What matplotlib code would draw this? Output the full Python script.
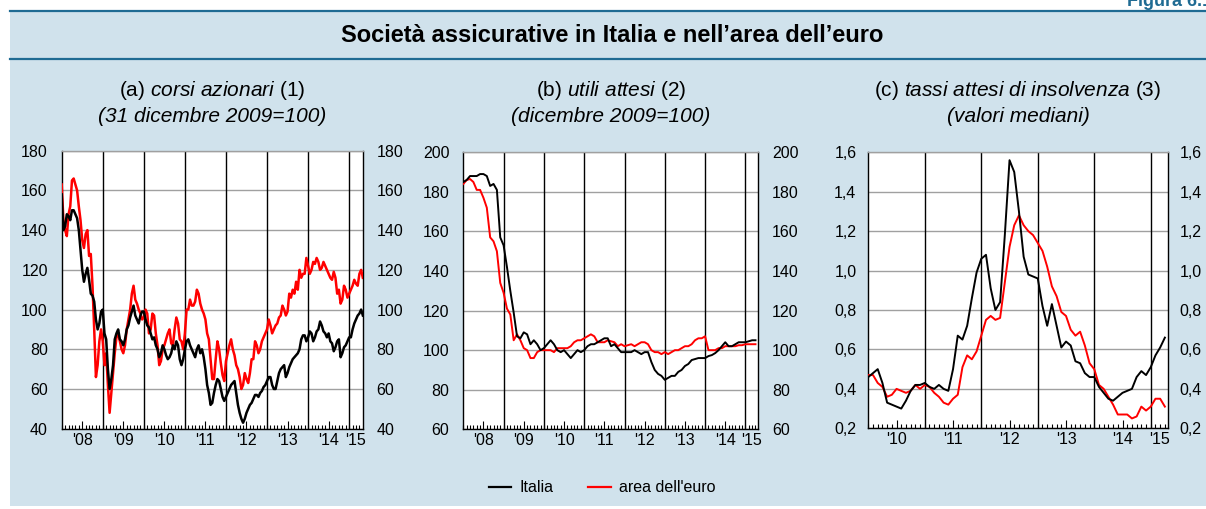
import numpy as np
import matplotlib
matplotlib.use('Agg')
import matplotlib.pyplot as plt
from matplotlib.patches import Rectangle
from matplotlib.lines import Line2D

W, H = 1206, 509
plt.rcParams['font.family'] = ['Liberation Sans', 'DejaVu Sans']
plt.rcParams['mathtext.fontset'] = 'custom'
plt.rcParams['mathtext.rm'] = 'Liberation Sans'
plt.rcParams['mathtext.it'] = 'Liberation Sans:italic'

# ---------------- data ----------------
# (a) share prices, twice a month from Jan 2008 (31 Dec 2009 = 100)
a_start = 2008.0
a_step = 1 / 24.0
a_italia = [158, 140, 142, 148, 147, 145, 150, 150, 148, 146, 140, 130, 120, 114, 118, 121, 115, 108, 107, 104,
            95, 90, 93, 99, 100, 88, 85, 70, 60, 65, 72, 85, 88, 90, 85, 84, 82, 85, 90, 92,
            96, 99, 102, 97, 95, 93, 97, 99, 99, 95, 92, 91, 88, 85, 86, 82, 80, 76, 78, 82,
            80, 77, 75, 76, 78, 82, 80, 84, 82, 75, 72, 75, 80, 84, 85, 82, 80, 78, 76, 80,
            82, 78, 80, 76, 70, 62, 58, 52, 53, 58, 62, 65, 64, 60, 56, 54, 56, 58, 60, 62,
            63, 64, 58, 52, 48, 45, 43, 45, 48, 50, 52, 53, 55, 57, 57, 56, 58, 59, 61, 62,
            64, 66, 66, 62, 60, 60, 64, 68, 70, 71, 72, 66, 68, 71, 73, 75, 76, 77, 78, 80,
            85, 87, 87, 84, 86, 89, 88, 84, 86, 89, 90, 94, 92, 89, 88, 86, 88, 84, 83, 79,
            81, 84, 85, 76, 78, 81, 82, 84, 86, 86, 90, 93, 95, 97, 98, 100, 97]
a_euro = [163, 145, 140, 137, 148, 152, 165, 166, 163, 160, 152, 145, 135, 131, 138, 140, 127, 128, 112, 90,
          66, 72, 84, 90, 84, 72, 78, 62, 48, 58, 68, 78, 86, 88, 84, 80, 78, 82, 90, 95,
          100, 108, 112, 105, 103, 100, 98, 95, 96, 100, 98, 88, 90, 98, 97, 88, 82, 72, 74, 80,
          82, 85, 88, 90, 83, 82, 90, 96, 93, 85, 84, 80, 88, 100, 100, 105, 102, 102, 104, 110,
          108, 103, 100, 98, 95, 88, 85, 75, 65, 65, 75, 84, 80, 73, 67, 64, 74, 78, 82, 85,
          80, 77, 72, 70, 66, 60, 62, 68, 65, 63, 68, 75, 75, 84, 82, 78, 80, 84, 86, 88,
          90, 95, 92, 88, 90, 92, 93, 96, 97, 102, 100, 97, 99, 108, 106, 110, 108, 114, 110, 120,
          116, 118, 118, 126, 122, 118, 120, 124, 123, 126, 124, 120, 121, 124, 122, 120, 118, 116, 115, 119,
          116, 108, 110, 103, 105, 112, 110, 106, 108, 110, 112, 115, 113, 112, 118, 120, 116]

# (b) expected earnings, monthly from Jan 2008 (Dec 2009 = 100)
b_start = 2008.0
b_step = 1 / 12.0
b_italia = [185, 186, 188, 188, 188, 189, 189, 188, 183, 184, 181, 157, 153, 142, 130,
            119, 107, 106, 109, 108, 103, 105, 103, 100, 101, 103, 105, 103, 100, 99,
            100, 98, 96, 98, 100, 99, 100, 102, 103, 103, 104, 105, 106, 106, 102, 103,
            101, 99, 99, 99, 99, 100, 99, 98, 99, 99, 94, 90, 88, 87, 85, 86, 87, 87,
            89, 90, 92, 93, 95, 95.5, 96, 96, 96, 97, 97.5, 98.5, 100, 102, 104, 102,
            102, 103, 104, 104, 104, 104.5, 105, 105]
b_euro = [184, 186, 186.5, 185, 181, 181, 177, 172, 157, 155, 150, 134, 129, 121, 118,
          105, 108, 105, 101, 100, 96, 96, 99, 100, 100, 100, 100, 99, 101, 101, 101,
          101, 102, 104, 105, 105, 106, 107, 108, 107, 104, 104, 104, 105, 104.5, 104,
          102, 103, 102, 102.5, 103, 102, 103, 104, 104, 103, 100, 99, 99, 98, 99, 98,
          99, 100, 100, 101, 102, 102, 103, 105, 106, 106, 107, 100, 100, 100, 101,
          101, 102, 102, 102, 102, 102.5, 102.5, 103, 103, 103, 103]

# (c) expected default rates (medians), monthly from Jan 2010
c_start = 2010.0
c_step = 1 / 12.0
c_italia = [0.46, 0.48, 0.50, 0.43, 0.33, 0.32, 0.31, 0.30, 0.34, 0.39, 0.42, 0.42,
            0.43, 0.41, 0.40, 0.42, 0.40, 0.39, 0.50, 0.67, 0.65, 0.72, 0.86, 0.99,
            1.06, 1.08, 0.91, 0.80, 0.84, 1.18, 1.56, 1.50, 1.30, 1.07, 0.98, 0.97,
            0.96, 0.82, 0.72, 0.83, 0.72, 0.61, 0.64, 0.62, 0.54, 0.53, 0.48, 0.46,
            0.46, 0.41, 0.38, 0.35, 0.34, 0.36, 0.38, 0.39, 0.40, 0.46, 0.49, 0.47,
            0.51, 0.57, 0.61, 0.66]
c_euro = [0.47, 0.47, 0.43, 0.41, 0.36, 0.37, 0.40, 0.39, 0.38, 0.39, 0.42, 0.40,
          0.42, 0.41, 0.38, 0.36, 0.33, 0.32, 0.35, 0.37, 0.51, 0.57, 0.55, 0.59,
          0.67, 0.75, 0.77, 0.75, 0.76, 0.94, 1.12, 1.23, 1.28, 1.23, 1.20, 1.18,
          1.14, 1.10, 1.02, 0.92, 0.87, 0.79, 0.77, 0.70, 0.67, 0.69, 0.62, 0.53,
          0.50, 0.42, 0.40, 0.36, 0.32, 0.27, 0.27, 0.27, 0.25, 0.26, 0.31, 0.29,
          0.31, 0.35, 0.35, 0.31]

a_years = [2008, 2009, 2010, 2011, 2012, 2013, 2014, 2015]
c_years = [2010, 2011, 2012, 2013, 2014, 2015]
a_yticks = [40, 60, 80, 100, 120, 140, 160, 180]
b_yticks = [60, 80, 100, 120, 140, 160, 180, 200]
c_yticks = [0.2, 0.4, 0.6, 0.8, 1.0, 1.2, 1.4, 1.6]

title = "Società assicurative in Italia e nell’area dell’euro"
sub_a = ["(a) $\\mathit{corsi\\ azionari}$ (1)", "(31 dicembre 2009=100)"]
sub_b = ["(b) $\\mathit{utili\\ attesi}$ (2)", "(dicembre 2009=100)"]
sub_c = ["(c) $\\mathit{tassi\\ attesi\\ di\\ insolvenza}$ (3)", "(valori mediani)"]
legend_labels = ["Italia", "area dell'euro"]

BG = '#d0e2ec'
LINEBLUE = '#1f6b93'
RED = '#ff0000'

fig = plt.figure(figsize=(W / 100, H / 100), dpi=100)
fig.patch.set_facecolor('white')
fig.patches.append(Rectangle((10 / W, 1 - 506 / H), (W - 10) / W, (506 - 11) / H,
                             transform=fig.transFigure, facecolor=BG,
                             edgecolor='none', zorder=-5))
for ypx in (11, 59):
    fig.add_artist(Line2D([10 / W, 1], [1 - ypx / H] * 2, color=LINEBLUE, lw=1.6,
                          transform=fig.transFigure))
fig.text(1212 / W, 1 - 6 / H, "Figura 6.1", ha='right', va='baseline',
         fontsize=13, fontweight='bold', color=LINEBLUE)
fig.text(612 / W, 1 - 36 / H, title, ha='center', va='center', fontsize=17,
         fontweight='bold', color='black')


def rect(l, t, r, b):
    return [l / W, 1 - b / H, (r - l) / W, (b - t) / H]


def panel(box, start, step, it, eu, years, ylim, yticks, fmt, lw, pad, subs, xend):
    ax = fig.add_axes(rect(*box))
    ax.set_facecolor('white')
    x_it = start + np.arange(len(it)) * step
    x_eu = start + np.arange(len(eu)) * step
    ax.set_xlim(years[0], xend)
    ax.set_ylim(*ylim)
    for y in yticks:
        ax.axhline(y, color='#a0a0a0', lw=1.0, zorder=1)
    for yr in years[1:]:
        ax.axvline(yr, color='black', lw=1.0, zorder=2)
    ax.plot(x_eu, eu, color=RED, lw=lw, zorder=3, solid_joinstyle='round')
    ax.plot(x_it, it, color='black', lw=lw, zorder=4, solid_joinstyle='round')
    ax.set_yticks(yticks)
    ax.set_yticklabels([fmt(v) for v in yticks])
    ax.tick_params(axis='y', length=0, labelsize=11.5, left=False, right=False,
                   labelleft=True, labelright=True, pad=pad)
    majors = [yr + 0.5 for yr in years[:-1]] + [years[-1] + 0.15]
    ax.set_xticks(majors)
    ax.set_xticklabels(["'" + str(yr)[2:] for yr in years])
    minors = [years[0] + m / 12.0 for m in range(int((xend - years[0]) * 12) + 1)]
    ax.set_xticks(minors, minor=True)
    ax.tick_params(axis='x', which='major', direction='in', length=6, width=0.8,
                   labelsize=11.5, pad=3, top=False)
    ax.tick_params(axis='x', which='minor', direction='in', length=3, width=0.8,
                   top=False)
    ax.xaxis.get_major_ticks()[-1].tick1line.set_visible(False)
    for s in ('left', 'right', 'bottom'):
        ax.spines[s].set_color('black')
        ax.spines[s].set_linewidth(1.0)
    ax.spines['top'].set_color('#a0a0a0')
    ax.spines['top'].set_linewidth(1.0)
    xc = (box[0] + box[2]) / 2
    fig.text(xc / W, 1 - 90 / H, subs[0], ha='center', va='center', fontsize=15)
    fig.text(xc / W, 1 - 116 / H, subs[1], ha='center', va='center', fontsize=15,
             style='italic')
    return ax


fmt_int = lambda v: "%d" % v
fmt_dec = lambda v: ("%.1f" % v).replace('.', ',')

axa = panel((61.7, 150.7, 362.7, 428.7), a_start, a_step, a_italia, a_euro, a_years,
            (40, 180), a_yticks, fmt_int, 1.8, 10, sub_a, 2015.33)
axb = panel((463.3, 152.3, 758.3, 429.3), b_start, b_step, b_italia, b_euro, a_years,
            (60, 200), b_yticks, fmt_int, 1.4, 10, sub_b, 2015.32)
axc = panel((868.3, 152.3, 1167.7, 428.3), c_start, c_step, c_italia, c_euro, c_years,
            (0.2, 1.6), c_yticks, fmt_dec, 1.4, 8.5, sub_c, 2015.30)

handles = [Line2D([], [], color='black', lw=1.6), Line2D([], [], color=RED, lw=1.6)]
fig.legend(handles, legend_labels, loc='center', bbox_to_anchor=(602 / W, 1 - 488 / H),
           ncol=2, frameon=False, fontsize=11.5, handlelength=1.4, columnspacing=2.2,
           handletextpad=0.5)

fig.savefig('out.png', dpi=100, facecolor=fig.get_facecolor())
